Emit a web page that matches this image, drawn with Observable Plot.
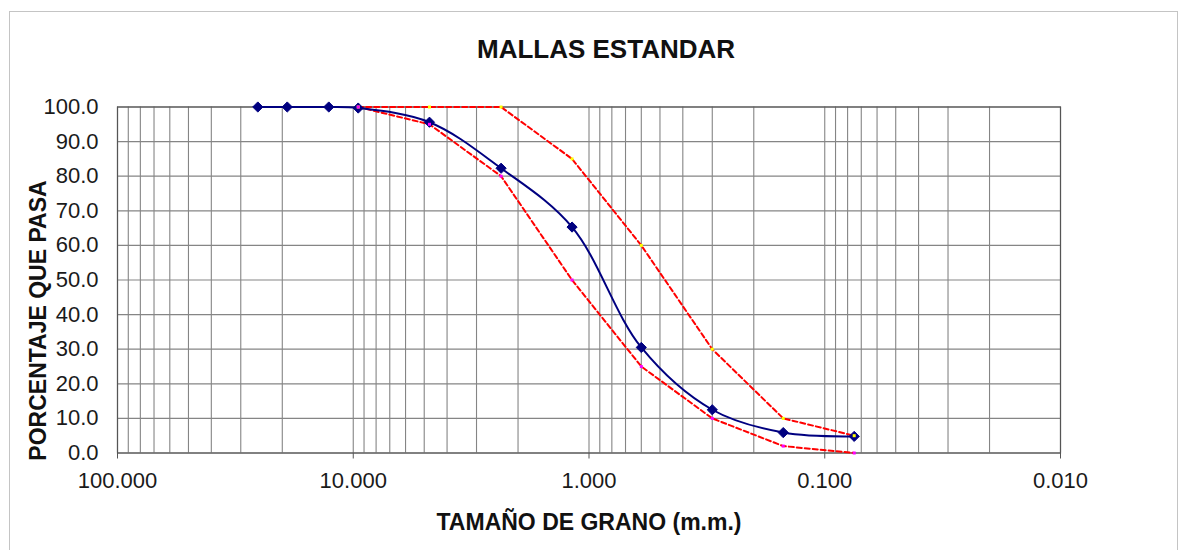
<!DOCTYPE html>
<html>
<head>
<meta charset="utf-8">
<script src="https://cdn.jsdelivr.net/npm/d3@7"></script>
<script src="https://cdn.jsdelivr.net/npm/@observablehq/plot@0.6"></script>
<style>
  html, body { margin: 0; padding: 0; background: #fff; }
  body { width: 1185px; height: 550px; overflow: hidden; position: relative; font-family: "Liberation Sans", Arial, sans-serif; }
  #frame { position: absolute; left: 9px; top: 11px; width: 1169px; height: 560px; border: 1.5px solid #c4c4c4; box-sizing: border-box; }
  #title { position: absolute; left: 0; top: 36px; width: 1212px; text-align: center; font-size: 26px; line-height: 26px; font-weight: bold; color: #111; }
  #chart { position: absolute; left: 0; top: 70px; }
</style>
</head>
<body>
<div id="frame"></div>
<div id="title">MALLAS ESTANDAR</div>
<div id="chart"></div>
<script>
// Sieve sizes (mm) for the sample curve
const sampleSizes = [25.4, 19.05, 12.7, 9.525, 4.75, 2.36, 1.18, 0.6, 0.3, 0.15, 0.075];
const samplePassing = [100, 100, 100, 99.7, 95.6, 82.3, 65.3, 30.5, 12.5, 5.9, 4.8];
// Specification band
const limitSizes = [9.525, 4.75, 2.36, 1.18, 0.6, 0.3, 0.15, 0.075];
const upperPassing = [100, 100, 100, 85, 60, 30, 10, 5];
const lowerPassing = [100, 95, 80, 50, 25, 10, 2, 0];
// Axis ticks
const xTicks = [100, 10, 1, 0.1, 0.01];
const yTicks = [0, 10, 20, 30, 40, 50, 60, 70, 80, 90, 100];
const titleText = "MALLAS ESTANDAR";
const xLabel = "TAMAÑO DE GRANO (m.m.)";
const yLabel = "PORCENTAJE QUE PASA";

const sample = sampleSizes.map((s, i) => ({size: s, pass: samplePassing[i]}));
const upper = limitSizes.map((s, i) => ({size: s, pass: upperPassing[i]}));
const lower = limitSizes.map((s, i) => ({size: s, pass: lowerPassing[i]}));

const font = '"Liberation Sans", Arial, sans-serif';
const gridStroke = "#858585";

const plot = Plot.plot({
  width: 1185,
  height: 480,
  marginLeft: 117,
  marginRight: 125,
  marginTop: 36.5,
  marginBottom: 97.5,
  style: {fontFamily: font, color: "#1a1a1a", background: "transparent"},
  x: {type: "log", domain: [100, 0.01]},
  y: {domain: [0, 100]},
  marks: [
    Plot.gridX({ticks: 40, stroke: gridStroke, strokeOpacity: 1, strokeWidth: 1.1}),
    Plot.ruleY(yTicks, {stroke: gridStroke, strokeWidth: 1.2}),
    Plot.frame({stroke: "#555", strokeWidth: 1.2}),
    Plot.axisX({ticks: xTicks, tickFormat: d3.format(".3f"), tickSize: 6, tickPadding: 13, fontSize: 22, label: null, stroke: "#555"}),
    Plot.axisY({ticks: yTicks, tickFormat: d3.format(".1f"), tickSize: 0, tickPadding: 19, fontSize: 22, label: null}),
    Plot.text([xLabel], {frameAnchor: "bottom", lineAnchor: "bottom", dy: 77, fontSize: 23, fontWeight: "bold", fill: "#111"}),
    Plot.text([yLabel], {frameAnchor: "left", textAnchor: "middle", lineAnchor: "middle", rotate: -90, dx: -79, dy: 40.5, fontSize: 23, fontWeight: "bold", fill: "#111"}),
    Plot.line(upper, {x: "size", y: "pass", stroke: "#ff0000", strokeWidth: 2, strokeDasharray: "5,3"}),
    Plot.line(lower, {x: "size", y: "pass", stroke: "#ff0000", strokeWidth: 2, strokeDasharray: "5,3"}),
    Plot.line(sample, {x: "size", y: "pass", stroke: "#000080", strokeWidth: 2, curve: "catmull-rom"}),
    Plot.dot(sample, {x: "size", y: "pass", symbol: "diamond2", r: 4.6, fill: "#000080", stroke: "#000080", strokeWidth: 1}),
    Plot.dot(upper, {x: "size", y: "pass", symbol: "square", r: 1.7, fill: "#ffff00", stroke: "none"}),
    Plot.dot(lower, {x: "size", y: "pass", symbol: "square", r: 1.7, fill: "#ff00ff", stroke: "none"})
  ]
});
document.getElementById("chart").appendChild(plot);
</script>
</body>
</html>
